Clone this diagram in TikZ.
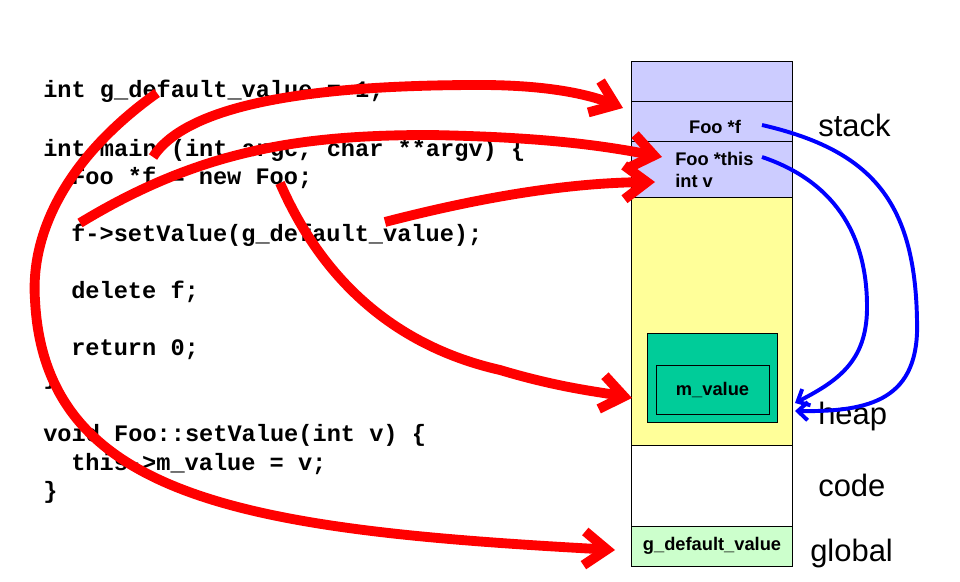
\documentclass[tikz,border=0pt]{standalone}
\usepackage{fontspec}
\setmainfont{Liberation Sans}
\newfontfamily\codefont{Liberation Mono}
\usepackage{tikz}
\usetikzlibrary{arrows.meta,positioning,calc}
\usepackage{xcolor}
\definecolor{StackLilac}{HTML}{CCCCFF}
\definecolor{HeapYellow}{HTML}{FFFF99}
\definecolor{ObjTeal}{HTML}{00CC99}
\definecolor{GlobGreen}{HTML}{CCFFCC}
\definecolor{PtrRed}{HTML}{FF0000}
\definecolor{RefBlue}{HTML}{0000FF}

\begin{document}
\begin{tikzpicture}[x=0.025cm,y=-0.025cm,
  mem/.style={draw,line width=0.7pt,inner sep=0pt,minimum width=4cm,font=\bfseries\fontsize{13}{15.6}\selectfont},
  cell/.style={font=\bfseries\fontsize{13}{15.6}\selectfont,inner sep=0pt},
  seg/.style={font=\fontsize{22}{26}\selectfont,anchor=base west,inner sep=0pt},
  src/.style={font=\codefont\bfseries\fontsize{16.8}{20}\selectfont,anchor=base west,inner sep=0pt},
  ptr/.style={draw=PtrRed,line width=7pt,-{Straight Barb[length=16pt,width=24pt]}},
  ref/.style={draw=RefBlue,line width=2.8pt,-{Straight Barb[length=7pt,width=13pt]}}]
\useasboundingbox (0,0) rectangle (960,582);

% memory layout
\node[mem,fill=StackLilac,minimum height=1cm] (stk0) at (712,82) {};
\node[mem,fill=StackLilac,minimum height=1cm] (stkf) at (712,122) {};
\node[mem,fill=StackLilac,minimum height=1.4cm] (stkthis) at (712,170) {};
\node[mem,fill=HeapYellow,minimum height=6.2cm] (heap) at (712,322) {};
\node[mem,fill=white,minimum height=2cm] (code) at (712,486) {};
\node[mem,fill=GlobGreen,minimum height=1cm] (glob) at (712,546) {g\_default\_value};
\node[mem,fill=ObjTeal,minimum width=3.225cm,minimum height=2.2cm] (obj) at (712.5,378) {};
\node[mem,fill=ObjTeal,minimum width=2.825cm,minimum height=1.2cm] (mval) at (712.5,390) {m\_value};

\node[cell] (fname) at (715,127) {Foo *f};
\node[cell,anchor=west,align=left] (thisname) at (675,170) {Foo *this\\int v};

\node[seg] (lstack) at (818,137) {stack};
\node[seg] (lheap) at (818,425) {heap};
\node[seg] (lcode) at (818,497) {code};
\node[seg] (lglobal) at (810,562) {global};

% source code
\node[src] (lglob) at (43,98) {int g\_default\_value = 1;};
\node[src] (lmain) at (43,156.5) {int main (int argc, char **argv) \{};
\node[src] (lnew) at (71,185) {Foo *f = new Foo;};
\node[src] (lcall) at (71,242) {f->setValue(g\_default\_value);};
\node[src] (ldel) at (71,299) {delete f;};
\node[src] (lret) at (71,356) {return 0;};
\node[src] (lend) at (43,385) {\}};
\node[src] (lfunc) at (43,442) {void Foo::setValue(int v) \{};
\node[src] (lset) at (71,471) {this->m\_value = v;};
\node[src] (lend2) at (43,499) {\}};

% where things live
\coordinate (gdef) at (157,93);
\coordinate (mainc) at (153,157);
\coordinate (fvar) at (80,223);
\coordinate (varg) at (385,222);
\coordinate (newc) at (280,183);
\coordinate (toglob) at (615,550);
\coordinate (toframe) at (623,108);
\coordinate (tothis) at (662,157);
\coordinate (tov) at (655,182);
\coordinate (toobj) at (632,398);
\coordinate (fptr) at (762,125);
\coordinate (thisptr) at (762,157);
\coordinate (toheapA) at (795,411);
\coordinate (toheapB) at (795,403);

\draw[ptr] (gdef) .. controls (70,155) and (30,230) .. (35,300)
  .. controls (45,500) and (250,530) .. (toglob);
\draw[ptr] (mainc) .. controls (190,100) and (330,85) .. (480,85)
  .. controls (550,85) and (590,95) .. (toframe);
\draw[ptr] (fvar) .. controls (200,150) and (300,135) .. (430,135)
  .. controls (540,137) and (600,145) .. (tothis);
\draw[ptr] (varg) .. controls (470,200) and (560,183) .. (tov);
\draw[ptr] (newc) .. controls (320,275) and (390,345) .. (500,370)
  .. controls (560,388) and (600,392) .. (toobj);

\draw[ref] (fptr) .. controls (870,150) and (915,200) .. (917,320)
  .. controls (920,400) and (870,412) .. (toheapA);
\draw[ref] (thisptr) .. controls (830,180) and (868,230) .. (867,310)
  .. controls (866,360) and (840,380) .. (toheapB);
\end{tikzpicture}
\end{document}
